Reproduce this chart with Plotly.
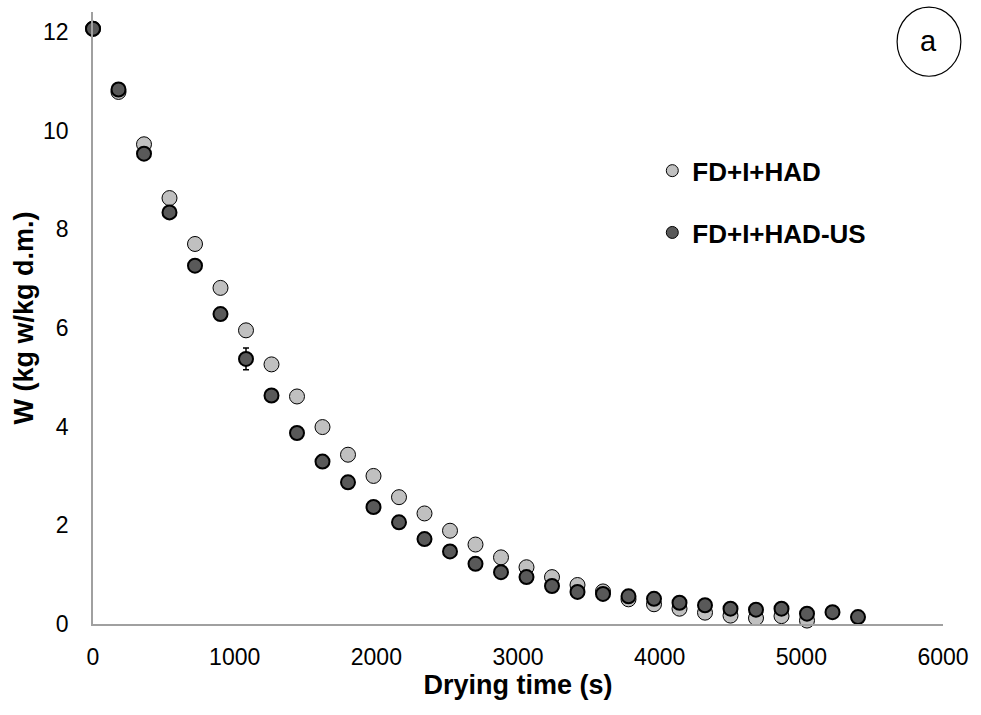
import plotly.graph_objects as go

# Drying time (s)
time_s = [0, 180, 360, 540, 720, 900, 1080, 1260, 1440, 1620, 1800, 1980, 2160, 2340, 2520,
          2700, 2880, 3060, 3240, 3420, 3600, 3780, 3960, 4140, 4320, 4500, 4680, 4860, 5040,
          5220, 5400]

# FD+I+HAD (light grey)
w_had = [12.06, 10.78, 9.72, 8.63, 7.70, 6.81, 5.95, 5.26, 4.61, 3.99, 3.43, 3.00, 2.57, 2.24,
         1.89, 1.61, 1.35, 1.15, 0.95, 0.79, 0.66, 0.50, 0.40, 0.31, 0.23, 0.17, 0.12, 0.16, 0.07]

# FD+I+HAD-US (dark grey)
w_had_us = [12.06, 10.83, 9.53, 8.34, 7.26, 6.28, 5.37, 4.63, 3.87, 3.29, 2.87, 2.37, 2.06, 1.72,
            1.47, 1.22, 1.05, 0.95, 0.77, 0.65, 0.61, 0.56, 0.51, 0.43, 0.38, 0.31, 0.29, 0.31,
            0.21, 0.24, 0.14]
w_had_us_err = [0, 0, 0, 0, 0, 0, 0.22, 0, 0, 0, 0, 0, 0, 0, 0, 0, 0, 0, 0, 0, 0, 0, 0, 0, 0,
                0, 0, 0, 0, 0, 0]

series_names = ["FD+I+HAD", "FD+I+HAD-US"]
x_ticks = [0, 1000, 2000, 3000, 4000, 5000, 6000]
y_ticks = [0, 2, 4, 6, 8, 10, 12]

LIGHT = "#c0c0c0"
DARK = "#595959"
FONT = "Liberation Sans, Arial, sans-serif"

fig = go.Figure()
fig.add_trace(go.Scatter(
    x=time_s[:len(w_had)], y=w_had, mode="markers", name=series_names[0],
    showlegend=False, cliponaxis=False,
    marker=dict(size=15, color=LIGHT, line=dict(color="black", width=1))))
fig.add_trace(go.Scatter(
    x=time_s[:len(w_had_us)], y=w_had_us, mode="markers", name=series_names[1],
    showlegend=False, cliponaxis=False,
    error_y=dict(type="data", array=w_had_us_err, visible=True, color="black",
                 thickness=1.5, width=3),
    marker=dict(size=14, color=DARK, line=dict(color="black", width=2))))

# legend entries
fig.add_trace(go.Scatter(
    x=[None], y=[None], mode="markers", name=series_names[0], legendgroup="a",
    marker=dict(size=12, color=LIGHT, line=dict(color="black", width=1))))
fig.add_trace(go.Scatter(
    x=[None], y=[None], mode="markers", name=series_names[1], legendgroup="b",
    marker=dict(size=12, color=DARK, line=dict(color="black", width=1))))

fig.update_layout(
    width=981, height=715,
    margin=dict(l=93, r=32, t=12, b=91),
    paper_bgcolor="white", plot_bgcolor="white",
    font=dict(family=FONT, color="black", size=23),
    showlegend=True,
    legend=dict(x=0.658, y=0.779, xanchor="left", yanchor="top",
                font=dict(size=26, family=FONT, weight="bold"),
                traceorder="grouped", tracegroupgap=25,
                bgcolor="rgba(0,0,0,0)"),
    xaxis=dict(range=[0, 6000], tickvals=x_ticks, ticks="", showgrid=False,
               zeroline=False, showline=True, linecolor="#a0a0a0", linewidth=1.5,
               ticklabelstandoff=12,
               title=dict(text="<b>Drying time (s)</b>", font=dict(size=27), standoff=6)),
    yaxis=dict(range=[0, 12.4], tickvals=y_ticks, ticks="", showgrid=False,
               zeroline=False, showline=True, linecolor="#a0a0a0", linewidth=1.5,
               ticklabelstandoff=18,
               title=dict(text="<b>W (kg w/kg d.m.)</b>", font=dict(size=27), standoff=2)),
)

fig.add_shape(type="circle", xref="paper", yref="paper",
              x0=0.946, x1=1.021, y0=0.895, y1=1.008,
              line=dict(color="black", width=1.2))
fig.add_annotation(text="a", xref="paper", yref="paper", x=0.983, y=0.953,
                   xanchor="center", yanchor="middle",
                   showarrow=False, font=dict(size=29, family=FONT))

fig.write_html("out.html")
